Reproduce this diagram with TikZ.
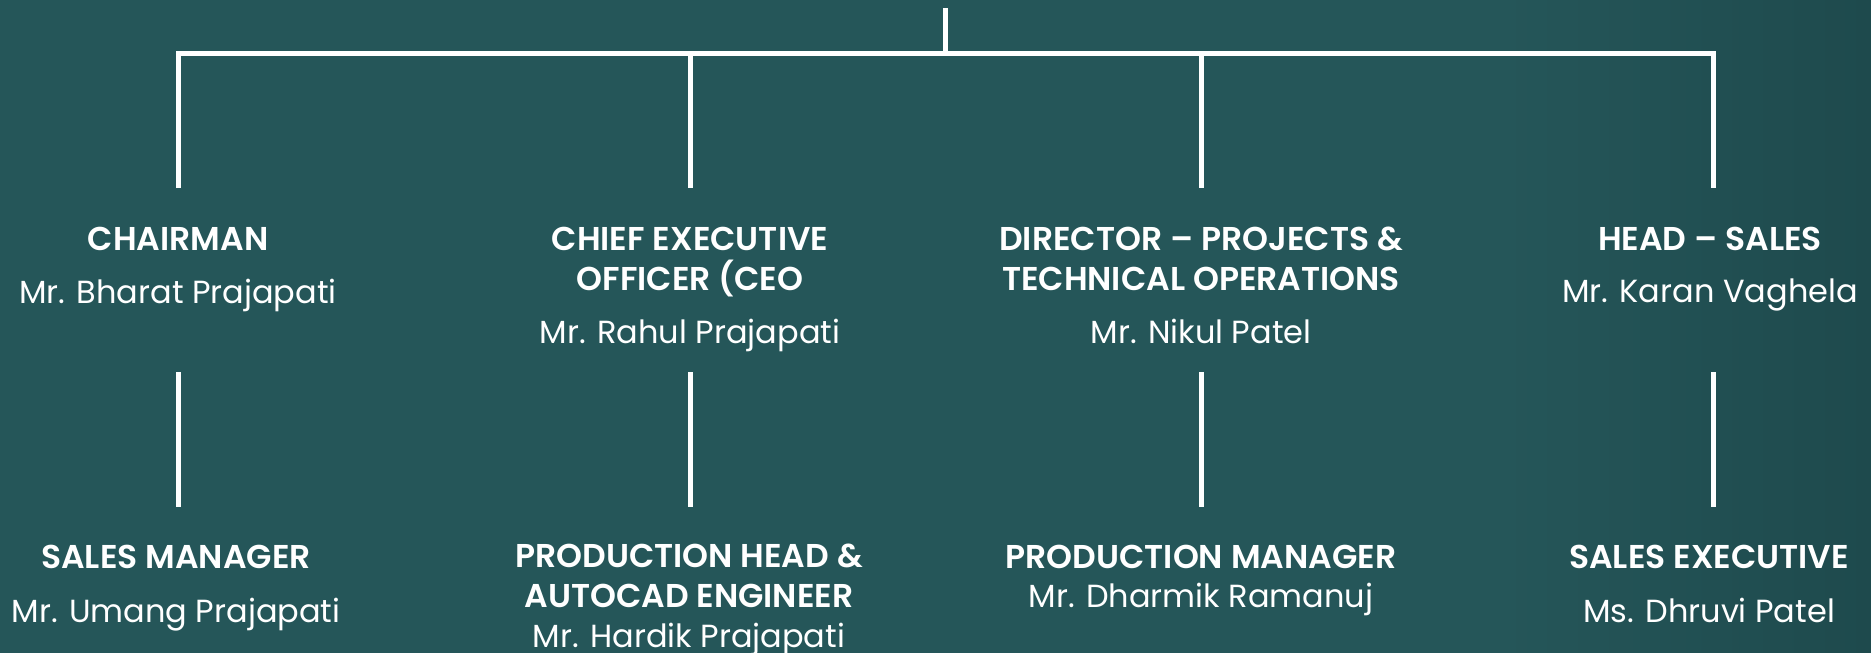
\documentclass[tikz,border=0pt]{standalone}
\usepackage{fontspec}
\setmainfont{Poppins}[BoldFont={Poppins SemiBold}]
\definecolor{bg}{RGB}{37,86,89}
\definecolor{bgdark}{RGB}{30,74,77}
\tikzset{
  role/.style={text=white, font=\fontsize{33}{40}\selectfont\bfseries, align=center, inner sep=0pt, anchor=base},
  person/.style={text=white, font=\fontsize{32}{38}\selectfont, align=center, inner sep=0pt, anchor=base},
  link/.style={white, line width=5pt},
}
\begin{document}
\begin{tikzpicture}[x=1pt,y=-1pt]
\useasboundingbox (0,0) rectangle (1871,653);
\fill[bg] (0,0) rectangle (1871,653);
\shade[left color=bg, right color=bgdark] (1500,0) rectangle (1871,653);

% coordinates
\coordinate (top) at (945,8);
\coordinate (hub) at (945,53);
\coordinate (b1) at (178,53);
\coordinate (b2) at (690,53);
\coordinate (b3) at (1201,53);
\coordinate (b4) at (1713,53);
\coordinate (d1) at (178,188);
\coordinate (d2) at (690,188);
\coordinate (d3) at (1201,188);
\coordinate (d4) at (1713,188);
\coordinate (u1) at (178,372);
\coordinate (u2) at (690,372);
\coordinate (u3) at (1201,372);
\coordinate (u4) at (1713,372);
\coordinate (l1) at (178,507);
\coordinate (l2) at (690,507);
\coordinate (l3) at (1201,507);
\coordinate (l4) at (1713,507);

% upper row (base anchor = last line's baseline)
\node[role]   (chair)  at (178,250)  {CHAIRMAN};
\node[person] (chairn) at (178,303)  {Mr. Bharat Prajapati};
\node[role]   (ceo)    at (690,290)  {CHIEF EXECUTIVE\\OFFICER (CEO};
\node[person] (ceon)   at (690,343)  {Mr. Rahul Prajapati};
\node[role]   (dir)    at (1201,290) {DIRECTOR – PROJECTS \&\\TECHNICAL OPERATIONS};
\node[person] (dirn)   at (1201,343) {Mr. Nikul Patel};
\node[role]   (head)   at (1710,250) {HEAD – SALES};
\node[person] (headn)  at (1710,302) {Mr. Karan Vaghela};

% lower row
\node[role]   (sm)  at (176,568)  {SALES MANAGER};
\node[person] (smn) at (176,622)  {Mr. Umang Prajapati};
\node[role]   (ph)  at (689,607)  {PRODUCTION HEAD \&\\AUTOCAD ENGINEER};
\node[person] (phn) at (689,647)  {Mr. Hardik Prajapati};
\node[role]   (pm)  at (1201,568) {PRODUCTION MANAGER};
\node[person] (pmn) at (1201,607) {Mr. Dharmik Ramanuj};
\node[role]   (se)  at (1709,568) {SALES EXECUTIVE};
\node[person] (sen) at (1709,622) {Ms. Dhruvi Patel};

% connectors
\draw[link] (top) -- (hub);
\draw[link] (d1) -- (b1) -- (b4) -- (d4);
\draw[link] (b2) -- (d2);
\draw[link] (b3) -- (d3);
\draw[link] (u1) -- (l1);
\draw[link] (u2) -- (l2);
\draw[link] (u3) -- (l3);
\draw[link] (u4) -- (l4);
\end{tikzpicture}
\end{document}
